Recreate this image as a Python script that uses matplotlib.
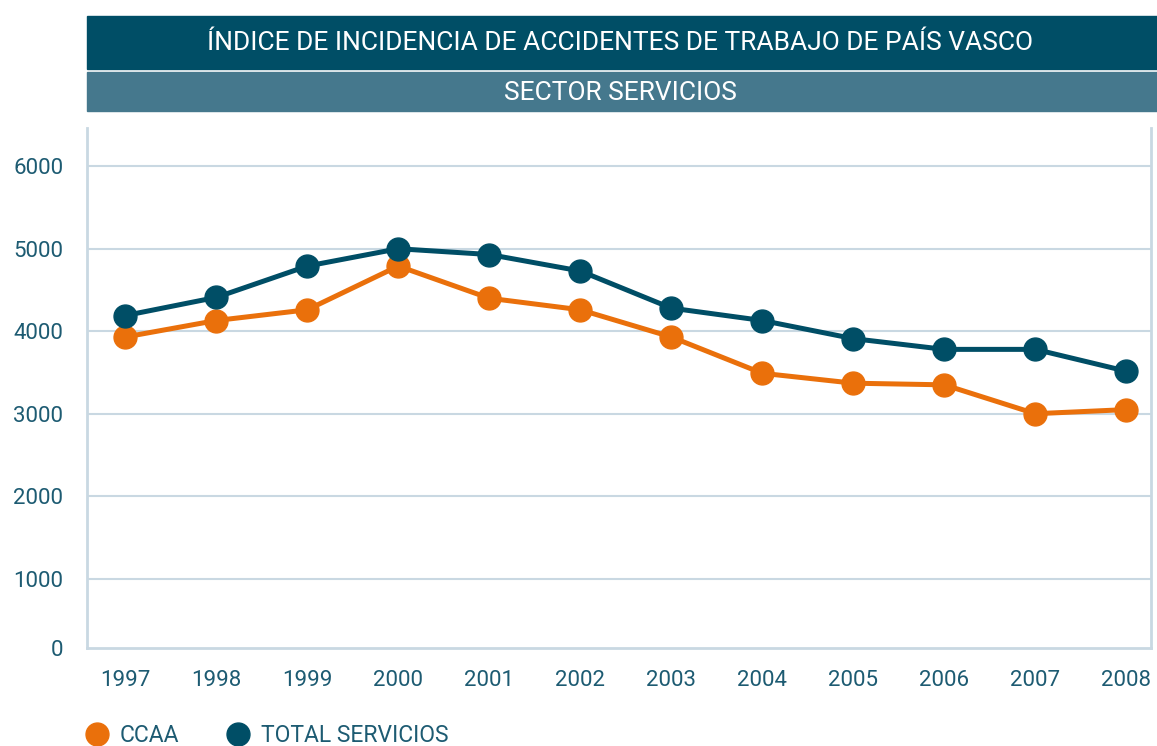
import matplotlib.pyplot as plt
from matplotlib.lines import Line2D
from matplotlib.patches import Rectangle

# datos
years = [1997, 1998, 1999, 2000, 2001, 2002, 2003, 2004, 2005, 2006, 2007, 2008]
ccaa = [3930, 4130, 4260, 4790, 4400, 4260, 3930, 3490, 3370, 3350, 3000, 3050]
total_servicios = [4190, 4410, 4790, 5000, 4930, 4730, 4280, 4130, 3910, 3780, 3780, 3515]
y_ticks = [1000, 2000, 3000, 4000, 5000, 6000]

naranja = "#ea700b"
azul = "#004e66"
azul_claro = "#45788d"
texto = "#1d5b72"
rejilla = "#c9d8e2"

plt.rcParams["font.family"] = ["Roboto", "DejaVu Sans"]

fig = plt.figure(figsize=(11.57, 7.46), dpi=100)
ax = fig.add_axes([0.0752, 0.1314, 0.9196, 0.6966])

ax.plot(years, ccaa, color=naranja, lw=3.6, marker="o", ms=16.5, zorder=3)
ax.plot(years, total_servicios, color=azul, lw=3.6, marker="o", ms=16.5, zorder=4)

# el eje del original empieza algo por encima de 0
ax.set_ylim(160, 6460)
ax.set_xlim(1996.58, 2008.27)
ax.set_yticks([160] + y_ticks)
ax.set_yticklabels(["0"] + [str(v) for v in y_ticks])
ax.set_xticks(years)
ax.set_xticklabels([str(y) for y in years])

for v in y_ticks:
    ax.axhline(v, color=rejilla, lw=1.5, zorder=1)

for s in ["left", "bottom", "right"]:
    ax.spines[s].set_color(rejilla)
    ax.spines[s].set_linewidth(2)
ax.spines["top"].set_visible(False)

ax.tick_params(axis="both", length=0, colors=texto, labelsize=16)
ax.tick_params(axis="y", pad=17)
ax.tick_params(axis="x", pad=16)

# cajas de titulo
fig.patches.append(Rectangle((0.0752, 0.9075), 0.9248, 0.071,
                             transform=fig.transFigure, color=azul, zorder=0))
fig.patches.append(Rectangle((0.0752, 0.8512), 0.9248, 0.0523,
                             transform=fig.transFigure, color=azul_claro, zorder=0))
fig.text(0.536, 0.942, "ÍNDICE DE INCIDENCIA DE ACCIDENTES DE TRABAJO DE PAÍS VASCO",
         color="white", fontsize=19, ha="center", va="center")
fig.text(0.536, 0.876, "SECTOR SERVICIOS",
         color="white", fontsize=19, ha="center", va="center")

# leyenda
handles = [
    Line2D([], [], color=naranja, marker="o", ls="none", ms=16.5),
    Line2D([], [], color=azul, marker="o", ls="none", ms=16.5),
]
fig.legend(handles, ["CCAA", "TOTAL SERVICIOS"], loc="center left",
           bbox_to_anchor=(0.0562, 0.0147), ncol=2, frameon=False,
           fontsize=16.5, labelcolor=texto, handletextpad=0.5,
           columnspacing=2.07, handlelength=1.0, borderpad=0.4)

fig.savefig("out.png", dpi=100)
